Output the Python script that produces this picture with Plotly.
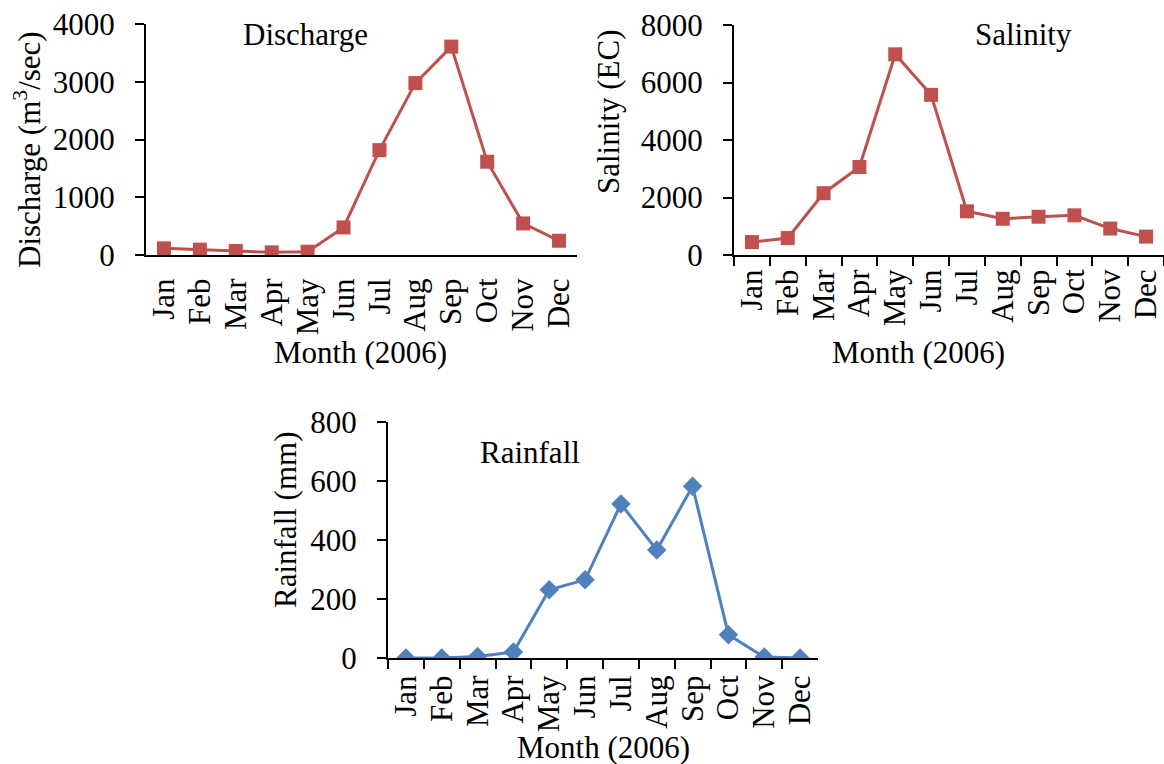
import plotly.graph_objects as go

months = ["Jan", "Feb", "Mar", "Apr", "May", "Jun", "Jul", "Aug", "Sep", "Oct", "Nov", "Dec"]
discharge = [115, 92, 69, 46, 57, 477, 1816, 2977, 3609, 1615, 546, 247]
salinity = [450, 590, 2150, 3060, 6980, 5570, 1520, 1260, 1330, 1380, 920, 640]
rainfall = [0, 0, 5, 20, 231, 265, 522, 366, 582, 79, 3, 0]

RED = "#C0504D"
BLUE = "#4F81BD"
FONT = "Liberation Serif"
FS = 31
W, H = 1164, 764

fig = go.Figure()
fig.add_trace(go.Scatter(x=months, y=discharge, mode="lines+markers", xaxis="x", yaxis="y",
                         line=dict(color=RED, width=3),
                         marker=dict(symbol="square", size=14, color=RED), showlegend=False))
fig.add_trace(go.Scatter(x=months, y=salinity, mode="lines+markers", xaxis="x2", yaxis="y2",
                         line=dict(color=RED, width=3),
                         marker=dict(symbol="square", size=14, color=RED), showlegend=False))
fig.add_trace(go.Scatter(x=months, y=rainfall, mode="lines+markers", xaxis="x3", yaxis="y3",
                         line=dict(color=BLUE, width=3),
                         marker=dict(symbol="diamond", size=15, color=BLUE), showlegend=False))


def px_x(v):
    return v / W


def px_y(v):
    return 1 - v / H


tickfont = dict(family=FONT, size=FS, color="black")

xcommon = dict(type="category", range=[-0.5, 11.5], showline=True, linecolor="black", linewidth=2,
               showgrid=False, zeroline=False, tickangle=-90, tickfont=tickfont,
               tickmode="array", tickvals=months, ticktext=months,
               ticks="outside", ticklen=9, tickwidth=2, tickcolor="black", tickson="boundaries",
               automargin=False, fixedrange=True)
ycommon = dict(showline=True, linecolor="black", linewidth=2, showgrid=False, zeroline=False,
               tickfont=tickfont, ticks="outside", ticklen=9, tickwidth=2, tickcolor="black",
               ticklabelstandoff=14, automargin=False, fixedrange=True)

fig.update_layout(
    width=W, height=H,
    margin=dict(l=0, r=0, t=0, b=0, autoexpand=False),
    paper_bgcolor="white", plot_bgcolor="white",
    font=dict(family=FONT, size=FS, color="black"),
    xaxis=dict(xcommon, domain=[px_x(146), px_x(577)], anchor="y",
               ticks="", ticklabelstandoff=9),
    yaxis=dict(ycommon, domain=[px_y(255), px_y(24)], anchor="x", range=[0, 4000], dtick=1000),
    xaxis2=dict(xcommon, domain=[px_x(734), 1.0], anchor="y2", ticklabelstandoff=0),
    yaxis2=dict(ycommon, domain=[px_y(255), px_y(25)], anchor="x2", range=[0, 8000], dtick=2000),
    xaxis3=dict(xcommon, domain=[px_x(388), px_x(818)], anchor="y3", ticklabelstandoff=3),
    yaxis3=dict(ycommon, domain=[px_y(658), px_y(422)], anchor="x3", range=[0, 800], dtick=200),
)

annots = [
    ("Discharge", 305, 35, 0),
    ("Salinity", 1023, 35, 0),
    ("Rainfall", 530, 453, 0),
    ("Month (2006)", 360, 352, 0),
    ("Month (2006)", 918, 352, 0),
    ("Month (2006)", 603, 747, 0),
    ("Discharge (m<sup>3</sup>/sec)", 27, 150, -90),
    ("Salinity (EC)", 609, 112, -90),
    ("Rainfall (mm)", 285, 520, -90),
]
for text, ax_, ay_, ang in annots:
    fig.add_annotation(text=text, x=px_x(ax_), y=px_y(ay_), xref="paper", yref="paper",
                       xanchor="center", yanchor="middle", showarrow=False, textangle=ang,
                       font=dict(family=FONT, size=FS, color="black"))

fig.write_html("out.html")
